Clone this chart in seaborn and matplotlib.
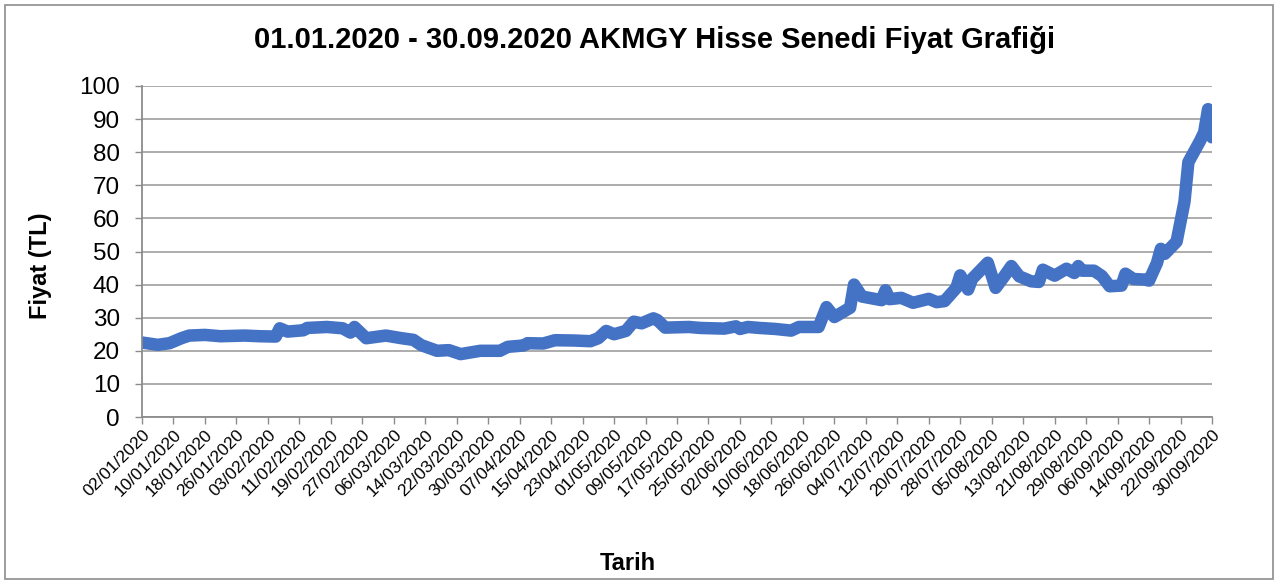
"""
AKMGY hisse senedi fiyat grafigi, 01.01.2020 - 30.09.2020
"""

import pandas as pd
import numpy as np
import matplotlib
matplotlib.use("Agg")
import matplotlib.pyplot as plt
import matplotlib.dates as mdates
from matplotlib.patches import Rectangle
import seaborn as sns

# ============================================================================
# DATA
# ============================================================================

dates = [
    "2020-01-02", "2020-01-06", "2020-01-09", "2020-01-12", "2020-01-14",
    "2020-01-18", "2020-01-22", "2020-01-28", "2020-02-01", "2020-02-05",
    "2020-02-06", "2020-02-08", "2020-02-12", "2020-02-13", "2020-02-18",
    "2020-02-22", "2020-02-24", "2020-02-25", "2020-02-28", "2020-03-04",
    "2020-03-08", "2020-03-11", "2020-03-13", "2020-03-17", "2020-03-20",
    "2020-03-23", "2020-03-28", "2020-04-02", "2020-04-04", "2020-04-08",
    "2020-04-09", "2020-04-13", "2020-04-16", "2020-04-21", "2020-04-25",
    "2020-04-27", "2020-04-29", "2020-05-01", "2020-05-04", "2020-05-06",
    "2020-05-08", "2020-05-11", "2020-05-12", "2020-05-14", "2020-05-20",
    "2020-05-23", "2020-05-29", "2020-06-01", "2020-06-02", "2020-06-04",
    "2020-06-07", "2020-06-11", "2020-06-15", "2020-06-17", "2020-06-22",
    "2020-06-24", "2020-06-26", "2020-06-30", "2020-07-01", "2020-07-03",
    "2020-07-08", "2020-07-09", "2020-07-10", "2020-07-13", "2020-07-16",
    "2020-07-20", "2020-07-22", "2020-07-24", "2020-07-27", "2020-07-28",
    "2020-07-30", "2020-07-31", "2020-08-04", "2020-08-06", "2020-08-08",
    "2020-08-10", "2020-08-12", "2020-08-15", "2020-08-17", "2020-08-18",
    "2020-08-21", "2020-08-24", "2020-08-26", "2020-08-27", "2020-08-28",
    "2020-08-31", "2020-09-02", "2020-09-04", "2020-09-07", "2020-09-08",
    "2020-09-10", "2020-09-13", "2020-09-14", "2020-09-16", "2020-09-17",
    "2020-09-18", "2020-09-21", "2020-09-23", "2020-09-24", "2020-09-27",
    "2020-09-28", "2020-09-29", "2020-09-30",
]

prices = [
    22.5, 21.8, 22.3, 23.8, 24.6,
    24.8, 24.4, 24.6, 24.4, 24.3,
    26.8, 25.8, 26.2, 26.9, 27.2,
    26.8, 25.5, 27.2, 23.8, 24.6,
    23.8, 23.3, 21.7, 20.0, 20.2,
    19.0, 20.0, 20.0, 21.2, 21.6,
    22.3, 22.2, 23.2, 23.1, 22.9,
    23.8, 26.0, 25.0, 26.0, 28.8,
    28.3, 29.8, 29.3, 27.0, 27.2,
    26.9, 26.7, 27.4, 26.6, 27.2,
    26.9, 26.6, 26.1, 27.2, 27.2,
    33.2, 30.2, 33.0, 40.0, 36.4,
    35.3, 38.3, 35.6, 36.0, 34.5,
    35.7, 34.7, 35.0, 39.0, 42.8,
    38.5, 41.7, 46.6, 39.0, 42.2,
    45.6, 42.5, 41.0, 40.8, 44.5,
    42.7, 44.8, 43.5, 45.6, 44.2,
    44.2, 42.6, 39.5, 39.7, 43.3,
    41.7, 41.5, 41.2, 46.5, 50.8,
    49.3, 53.0, 65.0, 77.0, 83.5,
    86.0, 93.0, 84.5,
]

title = "01.01.2020 - 30.09.2020 AKMGY Hisse Senedi Fiyat Grafiği"
x_label = "Tarih"
y_label = "Fiyat (TL)"
y_ticks = list(range(0, 101, 10))

df = pd.DataFrame({"Tarih": pd.to_datetime(dates), "Fiyat": prices})
tick_dates = pd.date_range("2020-01-02", "2020-09-30", freq="8D")

# ============================================================================
# PLOT
# ============================================================================

sns.set_theme(style="white")
plt.rcParams["font.family"] = ["Liberation Sans", "DejaVu Sans"]
plt.rcParams["text.color"] = "black"

fig = plt.figure(figsize=(12.79, 5.84), dpi=100)
ax = fig.add_axes([142 / 1279, 1 - 417 / 584, (1212 - 142) / 1279, (417 - 86) / 584])

sns.lineplot(data=df, x="Tarih", y="Fiyat", ax=ax, color="#4472C4",
             linewidth=9, solid_joinstyle="round", solid_capstyle="round")

ax.set_xlim(pd.Timestamp("2020-01-02"), pd.Timestamp("2020-09-30"))
ax.set_ylim(0, 100)
ax.set_yticks(y_ticks)
ax.set_xticks(tick_dates)
ax.xaxis.set_major_formatter(mdates.DateFormatter("%d/%m/%Y"))
ax.tick_params(axis="x", labelsize=12.5, labelcolor="black", length=5,
               width=1, color="#8c8c8c", direction="out", pad=2, bottom=True)
ax.tick_params(axis="y", labelsize=17.5, labelcolor="black", length=5,
               width=1, color="#8c8c8c", direction="out", pad=11, left=True)
for lbl in ax.get_xticklabels():
    lbl.set_rotation(45)
    lbl.set_ha("right")
    lbl.set_rotation_mode("anchor")

ax.yaxis.grid(True, color="#a6a6a6", linewidth=1.3)
ax.xaxis.grid(False)
ax.set_axisbelow(True)
for side in ["top", "right"]:
    ax.spines[side].set_visible(False)
for side in ["left", "bottom"]:
    ax.spines[side].set_color("#8c8c8c")
    ax.spines[side].set_linewidth(1.3)
ax.set_xlabel("")
ax.set_ylabel("")

fig.text(655 / 1279, 1 - 40 / 584, title, ha="center", va="center",
         fontsize=21, fontweight="bold", color="black")
fig.text(40 / 1279, 1 - 266 / 584, y_label, ha="center", va="center",
         rotation=90, fontsize=17, fontweight="bold", color="black")
fig.text(628 / 1279, 1 - 563 / 584, x_label, ha="center", va="center",
         fontsize=17, fontweight="bold", color="black")

# chart border
fig.patches.append(Rectangle((5 / 1279, 5 / 584), 1268 / 1279, 574 / 584,
                             transform=fig.transFigure, fill=False,
                             edgecolor="#8c8c8c", linewidth=1.2))

fig.savefig("out.png", dpi=100)
